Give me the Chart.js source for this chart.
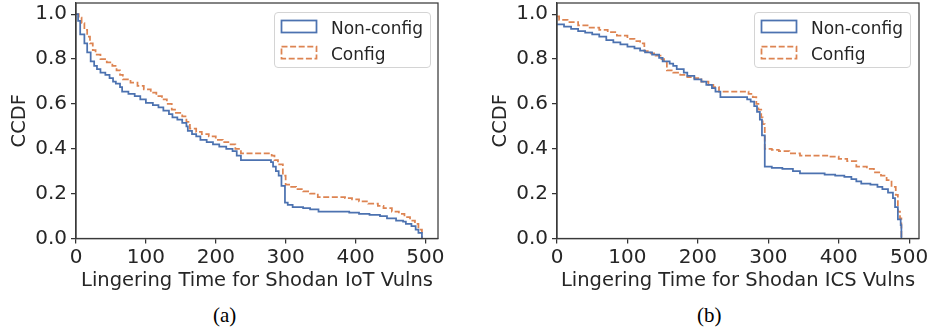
<!DOCTYPE html>
<html><head><meta charset="utf-8">
<script src="https://cdn.jsdelivr.net/npm/chart.js@4.4.1/dist/chart.umd.min.js"></script>
<style>
body{margin:0;background:#fff;width:930px;height:330px;overflow:hidden;position:relative;font-family:'DejaVu Sans',sans-serif;}
.wrap{position:absolute;top:0;width:449px;height:300px;}
.wrap canvas{position:absolute;left:0;top:0;}
.leg{position:absolute;border:1px solid #d4d4d4;border-radius:4px;background:rgba(255,255,255,0.85);box-sizing:border-box;}
.lt{position:absolute;font-size:17px;color:#262626;line-height:20px;white-space:nowrap;}
.pt{position:absolute;}
.cap{position:absolute;font-family:'Liberation Serif',serif;font-size:21px;color:#000;top:303px;line-height:24px;}
</style></head><body>
<div class="wrap" id="w1" style="left:0px"><canvas id="c1" width="449" height="300"></canvas></div>
<div class="wrap" id="w2" style="left:481px"><canvas id="c2" width="449" height="300"></canvas></div>
<div class="cap" style="left:213px">(a)</div>
<div class="cap" style="left:697px">(b)</div>
<script>
// ---- data ----
const seriesNames = ['Non-config', 'Config'];
const xTicks = [0, 100, 200, 300, 400, 500];
const yTicks = [0.0, 0.2, 0.4, 0.6, 0.8, 1.0];

// (a) Shodan IoT
const iotNonX = [0,3,6,12,16,21,26,30,35,42,48,53,57,63,66,75,84,92,100,110,118,125,133,138,145,152,158,160,166,172,178,187,196,205,215,224,230,236,279,282,286,290,294,299,303,310,325,335,347,391,405,420,435,445,458,468,472,480,486,490,495];
const iotNonY = [1.0,0.97,0.91,0.87,0.83,0.79,0.77,0.755,0.74,0.73,0.715,0.70,0.69,0.675,0.655,0.645,0.635,0.62,0.605,0.595,0.585,0.57,0.555,0.54,0.53,0.515,0.50,0.48,0.465,0.455,0.44,0.43,0.42,0.41,0.40,0.39,0.37,0.35,0.34,0.32,0.30,0.28,0.235,0.16,0.15,0.14,0.135,0.13,0.12,0.115,0.11,0.105,0.10,0.09,0.08,0.075,0.065,0.055,0.04,0.025,0.0];
const iotCfgX = [0,4,8,12,16,20,24,28,35,44,52,58,63,67,78,88,97,107,115,123,130,137,143,152,158,163,172,180,190,200,210,218,228,236,280,284,289,296,300,305,315,325,335,346,385,395,405,418,432,440,452,462,470,478,485,490,495];
const iotCfgY = [1.0,0.985,0.96,0.93,0.90,0.87,0.84,0.82,0.80,0.785,0.77,0.75,0.73,0.71,0.695,0.68,0.665,0.65,0.635,0.62,0.60,0.575,0.56,0.545,0.52,0.49,0.475,0.465,0.455,0.44,0.43,0.42,0.40,0.38,0.37,0.35,0.33,0.28,0.24,0.23,0.22,0.21,0.20,0.185,0.18,0.175,0.165,0.155,0.145,0.135,0.12,0.11,0.095,0.08,0.065,0.04,0.0];

// (b) Shodan ICS
const icsNonX = [0,10,20,30,40,50,60,70,80,90,100,110,118,125,135,145,150,160,165,170,180,185,195,205,212,220,225,232,270,275,280,284,288,291,295,305,320,335,345,380,395,408,418,425,432,445,455,462,470,477,480,484,488,489];
const icsNonY = [0.955,0.945,0.935,0.925,0.918,0.91,0.90,0.885,0.875,0.865,0.855,0.848,0.838,0.83,0.82,0.805,0.79,0.78,0.77,0.755,0.74,0.725,0.71,0.70,0.685,0.67,0.655,0.63,0.62,0.61,0.59,0.565,0.53,0.46,0.32,0.315,0.31,0.30,0.29,0.285,0.28,0.275,0.265,0.255,0.245,0.24,0.23,0.22,0.205,0.18,0.14,0.085,0.06,0.0];
const icsCfgX = [0,3,15,30,45,60,72,85,100,110,118,124,133,140,147,152,156,165,175,185,195,205,215,222,230,272,278,283,286,290,292,295,305,315,330,345,385,400,412,425,440,450,460,468,475,481,484,487,489];
const icsCfgY = [0.99,0.975,0.965,0.95,0.94,0.93,0.92,0.905,0.89,0.88,0.87,0.835,0.825,0.815,0.80,0.785,0.75,0.74,0.73,0.72,0.715,0.70,0.685,0.675,0.655,0.645,0.63,0.60,0.575,0.54,0.51,0.40,0.395,0.39,0.38,0.37,0.365,0.355,0.345,0.32,0.31,0.295,0.28,0.26,0.23,0.195,0.12,0.09,0.0];

const colors = ['#4c72b0', '#dd8452'];
const dashes = [[], [6, 2.6]];

// ---- rendering ----
const frame = {
  id: 'frame',
  afterDraw(chart) {
    const {ctx, chartArea: a} = chart;
    ctx.save();
    ctx.strokeStyle = '#3a3a3a';
    ctx.lineWidth = 1.25;
    ctx.strokeRect(a.left, a.top, a.right - a.left, a.bottom - a.top);
    ctx.restore();
  }
};

const tickFont = {size: 20, family: "'DejaVu Sans'"};
const titleFont = {size: 19.5, family: "'DejaVu Sans'"};

function makeChart(id, xs, ys, xMax, xTitle) {
  const datasets = xs.map((xarr, k) => ({
    label: seriesNames[k],
    data: xarr.map((x, i) => ({x: x, y: ys[k][i]})),
    borderColor: colors[k],
    borderWidth: 1.75,
    borderDash: dashes[k],
    stepped: true,
    pointRadius: 0,
    fill: false
  }));
  return new Chart(document.getElementById(id), {
    type: 'line',
    data: {datasets},
    options: {
      responsive: false, animation: false, devicePixelRatio: 1,
      layout: {padding: {top: 3, right: 11, left: 0, bottom: 0}},
      plugins: {legend: {display: false}, tooltip: {enabled: false}},
      scales: {
        x: {
          type: 'linear', min: 0, max: xMax,
          afterBuildTicks: s => { s.ticks = xTicks.map(v => ({value: v})); },
          afterFit: s => { s.height = 61.5; s.paddingLeft = 0; s.paddingRight = 0; },
          grid: {display: true, drawOnChartArea: false, drawTicks: true, tickLength: 5, color: '#333', lineWidth: 1.25},
          border: {display: true, color: '#3a3a3a', width: 1.25},
          ticks: {font: tickFont, color: '#262626', padding: 2, maxRotation: 0, autoSkip: false, callback: v => String(v)},
          title: {display: true, text: xTitle, font: titleFont, color: '#262626', padding: {top: 0, bottom: 7.6}}
        },
        y: {
          type: 'linear', min: 0, max: 1.05,
          afterBuildTicks: s => { s.ticks = yTicks.map(v => ({value: v})); },
          afterFit: s => { s.width = 76; s.paddingTop = 0; s.paddingBottom = 0; },
          grid: {display: true, drawOnChartArea: false, drawTicks: true, tickLength: 5, color: '#333', lineWidth: 1.25},
          border: {display: true, color: '#3a3a3a', width: 1.25},
          ticks: {font: tickFont, color: '#262626', padding: 4, autoSkip: false, callback: v => Number(v).toFixed(1)},
          title: {display: true, text: 'CCDF', font: titleFont, color: '#262626', padding: {top: 8.5, bottom: 0}}
        }
      }
    },
    plugins: [frame]
  });
}

function makeLegend(wrapId, boxLeft) {
  const w = document.getElementById(wrapId);
  const box = document.createElement('div');
  box.className = 'leg';
  box.style.left = boxLeft + 'px'; box.style.top = '12px';
  box.style.width = '157px'; box.style.height = '56px';
  w.appendChild(box);
  seriesNames.forEach((name, k) => {
    const cy = 13.5 + k * 26;
    const svgNS = 'http://www.w3.org/2000/svg';
    const svg = document.createElementNS(svgNS, 'svg');
    svg.setAttribute('width', '38'); svg.setAttribute('height', '15');
    svg.setAttribute('class', 'pt');
    svg.style.left = '5px'; svg.style.top = (cy - 7.5) + 'px';
    const r = document.createElementNS(svgNS, 'rect');
    r.setAttribute('x', '1.5'); r.setAttribute('y', '1.5');
    r.setAttribute('width', '35'); r.setAttribute('height', '12');
    r.setAttribute('fill', 'none'); r.setAttribute('stroke', colors[k]);
    r.setAttribute('stroke-width', '1.75');
    if (dashes[k].length) r.setAttribute('stroke-dasharray', dashes[k].join(' '));
    svg.appendChild(r);
    box.appendChild(svg);
    const t = document.createElement('div');
    t.className = 'lt';
    t.textContent = name;
    t.style.left = '56px'; t.style.top = (cy - 10 + 1) + 'px';
    box.appendChild(t);
  });
}

makeChart('c1', [iotNonX, iotCfgX], [iotNonY, iotCfgY], 518, 'Lingering Time for Shodan IoT Vulns');
makeChart('c2', [icsNonX, icsCfgX], [icsNonY, icsCfgY], 514, 'Lingering Time for Shodan ICS Vulns');
makeLegend('w1', 274);
makeLegend('w2', 273);
</script>
</body></html>
